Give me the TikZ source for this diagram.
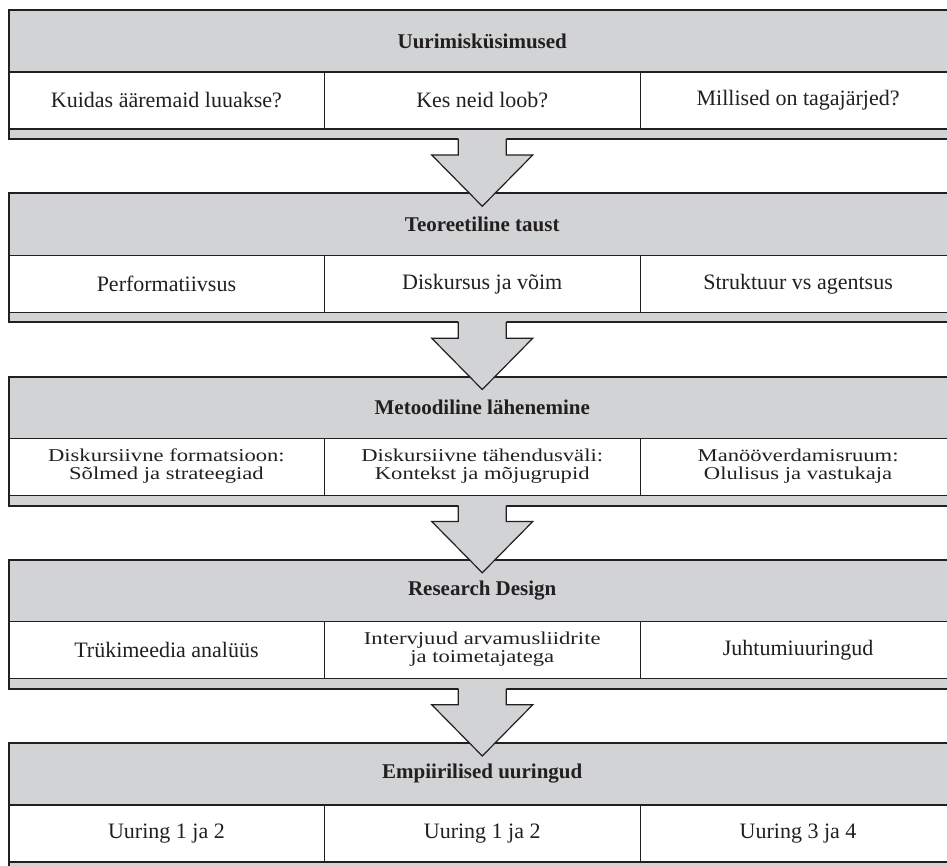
\documentclass[tikz,border=0pt]{standalone}
\usepackage{fontspec}
\usepackage{graphicx}
\setmainfont{Liberation Serif}
\usetikzlibrary{calc}
\definecolor{panel}{HTML}{D1D3D4}
\definecolor{ink}{HTML}{231F20}
\tikzset{
  hdr/.style={rectangle, draw=ink, fill=panel, line width=1.2pt, outer sep=0pt, inner sep=0pt,
    minimum width=947.5pt, minimum height=62pt, anchor=north west,
    font=\fontsize{21}{24}\selectfont\bfseries, text=ink},
  cell/.style={rectangle, draw=ink, fill=white, line width=1.2pt, outer sep=0pt, inner sep=0pt,
    minimum width=315.833pt, minimum height=57pt, anchor=north west,
    font=\fontsize{22}{24}\selectfont, text=ink, align=center},
  strip/.style={rectangle, draw=ink, fill=panel, line width=1.2pt, outer sep=0pt, inner sep=0pt,
    minimum width=947.5pt, minimum height=10pt, anchor=north west},
  frame/.style={draw=ink, line width=2pt},
  flow/.style={fill=panel},
  flowedge/.style={draw=ink, line width=1.2pt, line join=miter},
}
% two lines of cell text, set tight and slightly squeezed vertically
\newcommand\twoln[2]{\scalebox{1}[0.8]{\fontsize{22.6}{22.5}\selectfont
  \begin{tabular}{@{}c@{}}#1\\#2\end{tabular}}}
% one stage: header band, three cells, bottom strip, outer frame
\newcommand\flowstage[6]{%
  \node[hdr] (#1h) at (8.5,#2) {#3};
  \node[cell] (#1a) at (#1h.south west) {#4};
  \node[cell] (#1b) at (#1a.north east) {#5};
  \node[cell] (#1c) at (#1b.north east) {#6};
  \node[strip] (#1s) at (#1a.south west) {};
  \draw[frame] (#1h.north west) rectangle (#1s.south east);
}
% block arrow from the strip of one stage into the header of the next
\newcommand\flowarrow[2]{%
  \fill[flow] ($(#1s.south)+(-24,-3)$) -- ++(0,19) -- ++(-26.5,0)
    -- ($(#2h.north)+(0,13)$) -- ($(#1s.south)+(50.5,16)$) -- ++(-26.5,0) -- ++(0,-19) -- cycle;
  \draw[flowedge] ($(#1s.south)+(-24,0)$) -- ++(0,16) -- ++(-26.5,0)
    -- ($(#2h.north)+(0,13)$) -- ($(#1s.south)+(50.5,16)$) -- ++(-26.5,0) -- ++(0,-16);
}
\begin{document}
\begin{tikzpicture}[x=1pt,y=-1pt]
\useasboundingbox (0,0) rectangle (947,866);
\clip (0,0) rectangle (947,866);

\flowstage{p}{10}{Uurimisküsimused}
  {Kuidas ääremaid luuakse?}{Kes neid loob?}{Millised on tagajärjed?}
\flowstage{q}{193.25}{Teoreetiline taust}
  {Performatiivsus}{Diskursus ja võim}{Struktuur vs agentsus}
\flowstage{r}{376.5}{Metoodiline lähenemine}
  {\twoln{Diskursiivne formatsioon:}{Sõlmed ja strateegiad}}
  {\twoln{Diskursiivne tähendusväli:}{Kontekst ja mõjugrupid}}
  {\twoln{Manööverdamisruum:}{Olulisus ja vastukaja}}
\flowstage{s}{559.75}{Research Design}
  {Trükimeedia analüüs}
  {\twoln{Intervjuud arvamusliidrite}{ja toimetajatega}}
  {Juhtumiuuringud}
\flowstage{t}{743}{Empiirilised uuringud}
  {Uuring 1 ja 2}{Uuring 1 ja 2}{Uuring 3 ja 4}

\flowarrow{p}{q}
\flowarrow{q}{r}
\flowarrow{r}{s}
\flowarrow{s}{t}
\end{tikzpicture}
\end{document}
